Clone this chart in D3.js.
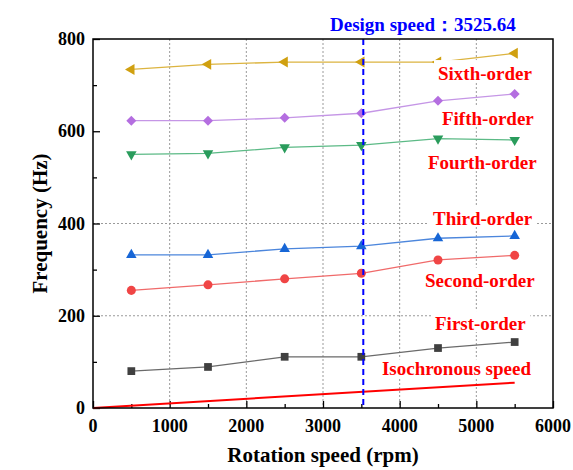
<html>
<head>
  <meta charset="utf-8">
  <title>Frequency vs rotation speed</title>
  <style>
  body {
    margin: 0;
    background: #fff;
  }
  .grid line {
    stroke: #9a9a9a;
    stroke-width: 1;
    stroke-dasharray: 2,2;
  }
  </style>
</head>
<body>
  <div id="chart"></div>

  <script src="https://d3js.org/d3.v7.min.js"></script>
  <script>
  // rotation speeds (rpm) for the measured points
  var speeds = [500, 1500, 2500, 3500, 4500, 5500]

  // frequency (Hz) of each order
  var firstOrder  = [80, 89, 111, 111, 130, 143]
  var secondOrder = [255, 267, 280, 292, 321, 331]
  var thirdOrder  = [332, 332, 345, 351, 368, 373]
  var fourthOrder = [550, 552, 565, 570, 584, 581]
  var fifthOrder  = [623, 623, 629, 639, 666, 681]
  var sixthOrder  = [734, 745, 750, 750, 750, 769]

  // isochronous speed line
  var isoSpeeds = [0, 5500]
  var isoFreq   = [0, 55]

  var designSpeed = 3525.64

  var xTicks = [0, 1000, 2000, 3000, 4000, 5000, 6000]
  var yTicks = [0, 200, 400, 600, 800]

  var FONT = "'Liberation Serif', 'Times New Roman', Times, 'DejaVu Serif', serif"

  var margin = {top: 39, right: 20, bottom: 62, left: 93},
    W = 573, H = 470,
    width = 460,
    height = 369;

  var svg = d3.select("#chart").append("svg")
    .attr("width", W)
    .attr("height", H)

  var g = svg.append("g")
    .attr("transform", "translate(" + margin.left + "," + margin.top + ")")

  var x = d3.scaleLinear().domain([0, 6000]).range([0, width])
  var y = d3.scaleLinear().domain([0, 800]).range([height, 0])

  // grid lines
  var grid = g.append("g").attr("class", "grid")
  grid.selectAll(".gx")
      .data([1000, 2000, 3000, 4000, 5000])
    .enter().append("line")
      .attr("x1", function(d){ return x(d) })
      .attr("x2", function(d){ return x(d) })
      .attr("y1", 0)
      .attr("y2", height)
  grid.selectAll(".gy")
      .data([200, 400])
    .enter().append("line")
      .attr("x1", 0)
      .attr("x2", width)
      .attr("y1", function(d){ return y(d) })
      .attr("y2", function(d){ return y(d) })

  // axes, ticks pointing inward
  var xAxis = g.append("g")
    .attr("transform", "translate(0," + height + ")")
    .call(d3.axisBottom(x).tickValues(d3.range(0, 6001, 500)).tickSize(-4).tickFormat(""))
  xAxis.selectAll(".tick line")
    .attr("y2", function(d){ return d % 1000 === 0 ? -7 : -4 })
  xAxis.select(".domain").remove()

  var yAxis = g.append("g")
    .call(d3.axisLeft(y).tickValues(d3.range(0, 801, 100)).tickSize(-4).tickFormat(""))
  yAxis.selectAll(".tick line")
    .attr("x2", function(d){ return d % 200 === 0 ? 7 : 4 })
  yAxis.select(".domain").remove()
  g.selectAll(".tick line").attr("stroke", "#000").attr("stroke-width", 1.3)

  g.selectAll(".xlab")
      .data(xTicks)
    .enter().append("text")
      .attr("x", function(d){ return x(d) })
      .attr("y", height + 24)
      .attr("text-anchor", "middle")
      .style("font-size", "18px")
      .text(function(d){ return d })

  g.selectAll(".ylab")
      .data(yTicks)
    .enter().append("text")
      .attr("x", -8)
      .attr("y", function(d){ return y(d) + 6 })
      .attr("text-anchor", "end")
      .style("font-size", "18px")
      .text(function(d){ return d })

  // annotation labels (positions in data units; pad = extra white box above text)
  var labels = [
    {text: "Sixth-order",       rpm: 4500, hz: 711, pad: 3},
    {text: "Fifth-order",       rpm: 4552, hz: 614, pad: 2},
    {text: "Fourth-order",      rpm: 4369, hz: 518, pad: 2},
    {text: "Third-order",       rpm: 4435, hz: 397, pad: 2},
    {text: "Second-order",      rpm: 4330, hz: 263, pad: 2},
    {text: "First-order",       rpm: 4461, hz: 169, pad: 2},
    {text: "Isochronous speed", rpm: 3769, hz: 71,  pad: -1}
  ]

  // series
  var series = [
    {vals: firstOrder,  color: "#404040", line: "#6a6a6a", sym: d3.symbolSquare,   size: 60, rot: 0},
    {vals: secondOrder, color: "#f04545", line: "#f06a6a", sym: d3.symbolCircle,   size: 64, rot: 0},
    {vals: thirdOrder,  color: "#1766d6", line: "#4c86dc", sym: d3.symbolTriangle, size: 48, rot: 0},
    {vals: fourthOrder, color: "#2a9c5c", line: "#5cba86", sym: d3.symbolTriangle, size: 48, rot: 180},
    {vals: fifthOrder,  color: "#b46ee0", line: "#c596e6", sym: d3.symbolSquare,   size: 50, rot: 45},
    {vals: sixthOrder,  color: "#d0a010", line: "#dcb440", sym: d3.symbolTriangle, size: 52, rot: -90}
  ]

  var line = d3.line()
    .x(function(d){ return x(d[0]) })
    .y(function(d){ return y(d[1]) })

  series.forEach(function(s){
    var pts = d3.zip(speeds, s.vals)
    g.append("path")
      .datum(pts)
      .attr("fill", "none")
      .attr("stroke", s.line)
      .attr("stroke-width", 1.3)
      .attr("d", line)
    g.selectAll(null)
        .data(pts)
      .enter().append("path")
        .attr("d", d3.symbol().type(s.sym).size(s.size))
        .attr("fill", s.color)
        .attr("transform", function(d){
          return "translate(" + x(d[0]) + "," + y(d[1]) + ") rotate(" + s.rot + ")"
        })
  })

  // isochronous speed line
  g.append("path")
    .datum(d3.zip(isoSpeeds, isoFreq))
    .attr("fill", "none")
    .attr("stroke", "#ff0000")
    .attr("stroke-width", 2)
    .attr("d", line)

  // label boxes + text
  var lab = g.selectAll(".lab")
      .data(labels)
    .enter().append("g")
  var labText = lab.append("text")
      .attr("x", function(d){ return x(d.rpm) })
      .attr("y", function(d){ return y(d.hz) })
      .attr("fill", "#ff0000")
      .style("font-family", FONT)
      .style("font-weight", "bold")
      .style("font-size", "19px")
      .text(function(d){ return d.text })
  labText.each(function(d){
    var b = this.getBBox()
    d3.select(this.parentNode).insert("rect", "text")
      .attr("x", b.x - 4)
      .attr("y", b.y - d.pad)
      .attr("width", b.width + 8)
      .attr("height", b.height + d.pad - 2)
      .attr("fill", "#fff")
  })

  // design speed
  g.append("line")
    .attr("x1", x(designSpeed))
    .attr("x2", x(designSpeed))
    .attr("y1", 0)
    .attr("y2", height)
    .attr("stroke", "#0000ff")
    .attr("stroke-width", 2)
    .attr("stroke-dasharray", "6,4")

  svg.append("text")
    .attr("x", 330)
    .attr("y", 31)
    .attr("fill", "#0000ff")
    .style("font-size", "19px")
    .text("Design speed：" + designSpeed)

  // frame
  g.append("rect")
    .attr("width", width)
    .attr("height", height)
    .attr("fill", "none")
    .attr("stroke", "#000")
    .attr("stroke-width", 1.5)

  // axis titles
  svg.append("text")
    .attr("x", margin.left + width / 2)
    .attr("y", 462)
    .attr("text-anchor", "middle")
    .style("font-size", "21px")
    .text("Rotation speed (rpm)")

  svg.append("text")
    .attr("transform", "translate(47," + (margin.top + height / 2) + ") rotate(-90)")
    .attr("text-anchor", "middle")
    .style("font-size", "21px")
    .text("Frequency (Hz)")

  svg.selectAll("text")
    .style("font-family", FONT)
    .style("font-weight", "bold")
  </script>
</body>
</html>
